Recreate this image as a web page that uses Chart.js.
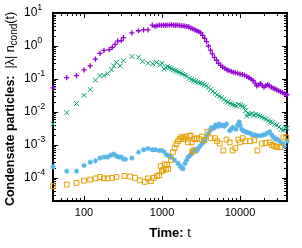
<!DOCTYPE html>
<html>
<head>
<meta charset="utf-8">
<script src="https://cdn.jsdelivr.net/npm/chart.js@4"></script>
<style>
  html, body { margin: 0; padding: 0; background: #fff; }
  #wrap { width: 302px; height: 248px; }
</style>
</head>
<body>
<div id="wrap"><canvas id="chart" width="302" height="248"></canvas></div>
<script>
// condensate particles vs time, log-log, four data sets

const tPurple = [40,60,80,100,120,140,160,180,210,230,
  250,270,300,320,410,500,580,660,750,810,
  860,920,980,1040,1100,1160,1240,1320,1400,1480,
  1560,1660,1760,1860,1960,2080,2200,2340,2480,2640,
  2800,2960,3140,3320,3520,3720,3940,4180,4420,4700,
  5000,5300,5650,6000,6400,6800,7200,7700,8200,8700,
  9300,10000,10700,11400,12200,13000,13800,14700,15600,16400,
  17300,18300,19300,20300,21400,22600,23800,25200,26600,28000,
  29600,31300,33000,34900,36900,39000,40000];
const vPurple = [0.054,0.11,0.126,0.19,0.25,0.4,0.6,0.74,0.78,0.9,
  1.12,1.4,1.45,1.8,2.5,2.9,3.1,3.1,4.3,3.9,
  4.1,4.3,4.2,4.3,4.2,4.3,4.3,4.4,4.3,4.2,
  4.3,4.2,4.1,4.1,4.0,3.9,3.8,3.5,3.3,3.1,
  2.9,2.7,2.5,2.1,1.7,1.35,1.0,0.75,0.58,0.45,
  0.37,0.3,0.26,0.23,0.21,0.19,0.18,0.17,0.16,0.155,
  0.15,0.14,0.135,0.13,0.12,0.11,0.1,0.09,0.075,0.062,
  0.066,0.073,0.063,0.057,0.063,0.067,0.062,0.057,0.053,0.05,
  0.047,0.044,0.041,0.039,0.036,0.034,0.033];

const tGreen = [40,60,80,100,120,140,160,180,200,225,
  240,260,290,320,410,500,560,660,760,850,
  950,1000,1060,1120,1180,1250,1325,1400,1480,1560,
  1660,1760,1860,1980,2100,2240,2380,2540,2700,2880,
  3060,3260,3480,3700,3940,4200,4480,4780,5100,5440,
  5800,6200,6600,7000,7500,8000,8500,9000,9600,10200,
  10800,11400,11800,12200,12600,13400,14200,15000,16000,17000,
  18000,19200,20400,21600,23000,24500,26000,27800,29600,31500,
  33600,35800,38000,40000];
const vGreen = [0.0043,0.0095,0.018,0.032,0.048,0.092,0.126,0.126,0.145,0.19,
  0.25,0.32,0.25,0.36,0.48,0.46,0.34,0.3,0.29,0.32,
  0.27,0.3,0.2,0.22,0.24,0.22,0.21,0.19,0.18,0.17,
  0.16,0.15,0.14,0.13,0.12,0.105,0.095,0.09,0.085,0.08,
  0.076,0.072,0.066,0.062,0.055,0.048,0.042,0.038,0.033,0.03,
  0.027,0.024,0.021,0.02,0.018,0.017,0.016,0.015,0.017,0.016,
  0.015,0.014,0.011,0.0075,0.009,0.0085,0.009,0.008,0.0085,0.008,
  0.0075,0.007,0.0065,0.006,0.0055,0.005,0.0048,0.0042,0.004,0.0035,
  0.003,0.0028,0.0034,0.0032];

const tBlue = [40,60,80,100,120,140,160,180,200,220,
  240,260,280,300,320,340,410,500,580,660,
  750,820,920,1000,1080,1150,1240,1320,1450,1600,
  1700,1780,1860,1960,2060,2160,2280,2390,2500,2620,
  2750,2890,3050,3250,3400,3540,3750,3960,4150,4340,
  4600,4850,5100,5350,5600,5890,6300,6720,7350,7700,
  8070,8870,9300,9750,10000,10500,11000,11700,12400,13200,
  14000,14800,15800,17000,18500,19800,21000,22500,24000,25500,
  27000,28500,30000,32000,35000,37000,40000];
const vBlue = [2.2e-4,1.6e-4,1.6e-4,2.4e-4,3.0e-4,3.3e-4,4.0e-4,4.3e-4,4.3e-4,4.9e-4,
  5.3e-4,4.6e-4,4.3e-4,4.3e-4,3.7e-4,3.7e-4,4.0e-4,6.0e-4,7.2e-4,7.8e-4,
  7.2e-4,7.2e-4,6.8e-4,6.8e-4,6.0e-4,5.0e-4,4.6e-4,4.2e-4,3.5e-4,2.8e-4,
  2.3e-4,2.0e-4,1.9e-4,2.7e-4,3.4e-4,4.3e-4,4.8e-4,5.4e-4,6.3e-4,7.3e-4,
  6.5e-4,7.6e-4,9.1e-4,1.1e-3,1.2e-3,1.45e-3,1.9e-3,2.3e-3,2.8e-3,3.4e-3,
  3.2e-3,4.0e-3,3.6e-3,4.3e-3,3.8e-3,4.0e-3,3.7e-3,4.3e-3,2.7e-3,3.0e-3,
  3.4e-3,3.0e-3,4.0e-3,5.0e-3,3.9e-3,3.0e-3,2.7e-3,2.5e-3,2.4e-3,2.3e-3,
  2.1e-3,2.0e-3,2.0e-3,1.9e-3,1.9e-3,2.0e-3,2.1e-3,2.3e-3,2.5e-3,2.0e-3,
  1.7e-3,1.5e-3,1.5e-3,1.3e-3,1.1e-3,9e-4,1.3e-3];

const tOrange = [40,60,80,100,120,140,160,180,200,230,
  260,330,390,450,520,600,660,720,780,860,
  920,960,1000,1040,1080,1120,1160,1200,1300,1380,
  1450,1530,1600,1680,1760,1860,1950,2050,2150,2250,
  2330,2390,2440,2520,2600,2790,3000,3230,3500,3830,
  4200,4780,5100,5500,6100,6700,7350,8000,8700,9500,
  10000,10800,11700,13500,15200,16700,19000,21200,24000,25500,
  27000,28500,30000,33000,36000,39000];
const vOrange = [5.6e-5,6.3e-5,7.1e-5,8.3e-5,8.9e-5,9.7e-5,1.07e-4,9.7e-5,9.7e-5,1.0e-4,
  1.07e-4,1.15e-4,1.1e-4,1.0e-4,8.5e-5,7.6e-5,9.7e-5,8.0e-5,1.0e-4,1.15e-4,
  1.2e-4,2.3e-4,1.6e-4,1.8e-4,2.6e-4,1.8e-4,2.5e-4,1.9e-4,3.5e-4,6.0e-4,
  8.0e-4,1.07e-3,1.3e-3,1.5e-3,1.7e-3,1.7e-3,1.5e-3,1.8e-3,1.2e-3,1.9e-3,
  1.9e-3,1.2e-3,6.3e-4,6.8e-4,1.5e-3,1.6e-3,1.5e-3,1.8e-3,1.4e-3,2.5e-3,
  1.6e-3,1.6e-3,1.3e-3,1.1e-3,6.8e-4,1.45e-3,1.2e-3,6.8e-4,8.0e-4,1.45e-3,
  1.2e-3,1.6e-3,1.3e-3,1.3e-3,1.4e-3,6.8e-4,1.1e-3,1.15e-3,1.2e-3,1.0e-3,
  9.6e-4,9.0e-4,8.6e-4,8.6e-4,1.7e-3,1.7e-3];

const xTickLabels = ['100', '1000', '10000'];
const yTickExps = [1, 0, -1, -2, -3, -4];

const FONT = '"Liberation Sans", Arial, sans-serif';

const toPoints = (ts, vs) => ts.map((t, i) => ({ x: t, y: vs[i] }));

// draw a run of text pieces (text, font, shift) one after another
function richText(ctx, x, y, parts, draw) {
    let cx = x;
    parts.forEach(p => {
        ctx.font = p[1];
        if (draw) ctx.fillText(p[0], cx, y + (p[2] || 0));
        cx += ctx.measureText(p[0]).width;
    });
    return cx - x;
}

// gnuplot-like frame: border, inward ticks on all sides, labels
const framePlugin = {
    id: 'frame',
    beforeDatasetsDraw(chart) {
        const { ctx, chartArea: a, scales } = chart;
        const xs = scales.x, ys = scales.y;
        ctx.save();
        ctx.strokeStyle = '#000';
        ctx.lineWidth = 1;
        ctx.beginPath();
        for (let d = 10; d <= 10000; d *= 10) {
            for (let m = 1; m <= 9; m++) {
                const v = m * d;
                if (v < 40 || v > 40000) continue;
                const px = Math.round(xs.getPixelForValue(v)) + 0.5;
                const len = m === 1 ? 5 : 3;
                ctx.moveTo(px, a.bottom); ctx.lineTo(px, a.bottom - len);
                ctx.moveTo(px, a.top); ctx.lineTo(px, a.top + len);
            }
        }
        for (let e = -5; e <= 0; e++) {
            for (let m = 1; m <= 9; m++) {
                const v = m * Math.pow(10, e);
                if (v < 2e-5 || v > 10) continue;
                const py = Math.round(ys.getPixelForValue(v)) + 0.5;
                const len = m === 1 ? 5 : 3;
                ctx.moveTo(a.left, py); ctx.lineTo(a.left + len, py);
                ctx.moveTo(a.right, py); ctx.lineTo(a.right - len, py);
            }
        }
        ctx.stroke();
        ctx.lineWidth = 2;
        ctx.strokeRect(a.left, a.top, a.right - a.left, a.bottom - a.top);
        ctx.restore();
    },
    afterDraw(chart) {
        const { ctx, chartArea: a, scales } = chart;
        const xs = scales.x, ys = scales.y;
        ctx.save();
        ctx.fillStyle = '#000';
        ctx.textBaseline = 'middle';

        // x tick labels
        ctx.textAlign = 'center';
        ctx.font = '11px ' + FONT;
        xTickLabels.forEach(l => {
            ctx.fillText(l, xs.getPixelForValue(Number(l)), 213);
        });

        // y tick labels 10^e
        ctx.textAlign = 'left';
        yTickExps.forEach(e => {
            const py = ys.getPixelForValue(Math.pow(10, e));
            richText(ctx, 24, py, [
                ['10', '12px ' + FONT, 0],
                [e < 0 ? '-' + (-e) : String(e), '9px ' + FONT, -5]
            ], true);
        });

        // x title
        const xParts = [['Time:', 'bold 13px ' + FONT, 0], [' t', '13px ' + FONT, 0]];
        const w = richText(ctx, 0, 0, xParts, false);
        richText(ctx, (a.left + a.right) / 2 - w / 2, 233, xParts, true);

        // y title, rotated
        const yParts = [
            ['Condensate particles:', 'bold 12.5px ' + FONT, 0],
            ['  |\u03bb| n', '12.5px ' + FONT, 0],
            ['cond', '10px ' + FONT, 3],
            ['(t)', '12.5px ' + FONT, 0]
        ];
        const wy = richText(ctx, 0, 0, yParts, false);
        ctx.translate(11, (a.top + a.bottom) / 2 + 2);
        ctx.rotate(-Math.PI / 2);
        richText(ctx, -wy / 2, 0, yParts, true);
        ctx.restore();
    }
};

new Chart(document.getElementById('chart'), {
    type: 'scatter',
    data: {
        datasets: [
            {
                label: 'purple',
                data: toPoints(tPurple, vPurple),
                pointStyle: 'cross',
                pointRadius: 2.6,
                borderColor: '#9400D3',
                backgroundColor: 'rgba(0,0,0,0)',
                borderWidth: 1.3,
                order: 3,
                clip: false
            },
            {
                label: 'green',
                data: toPoints(tGreen, vGreen),
                pointStyle: 'crossRot',
                pointRadius: 3.4,
                borderColor: '#009E73',
                backgroundColor: 'rgba(0,0,0,0)',
                borderWidth: 1,
                order: 2,
                clip: false
            },
            {
                label: 'blue',
                data: toPoints(tBlue, vBlue),
                pointStyle: 'star',
                pointRadius: 2.6,
                borderColor: '#56B4E9',
                backgroundColor: 'rgba(0,0,0,0)',
                borderWidth: 1.2,
                order: 1,
                clip: false
            },
            {
                label: 'orange',
                data: toPoints(tOrange, vOrange),
                pointStyle: 'rect',
                pointRadius: 3.4,
                borderColor: '#E69F00',
                backgroundColor: 'rgba(0,0,0,0)',
                borderWidth: 1,
                order: 0,
                clip: false
            }
        ]
    },
    options: {
        responsive: false,
        animation: false,
        devicePixelRatio: 1,
        events: [],
        layout: { padding: { left: 53, right: 15, top: 13, bottom: 47 } },
        plugins: { legend: { display: false }, tooltip: { enabled: false } },
        scales: {
            x: { type: 'logarithmic', min: 40, max: 40000, display: false },
            y: { type: 'logarithmic', min: 2e-5, max: 10, display: false }
        }
    },
    plugins: [framePlugin]
});
</script>
</body>
</html>
